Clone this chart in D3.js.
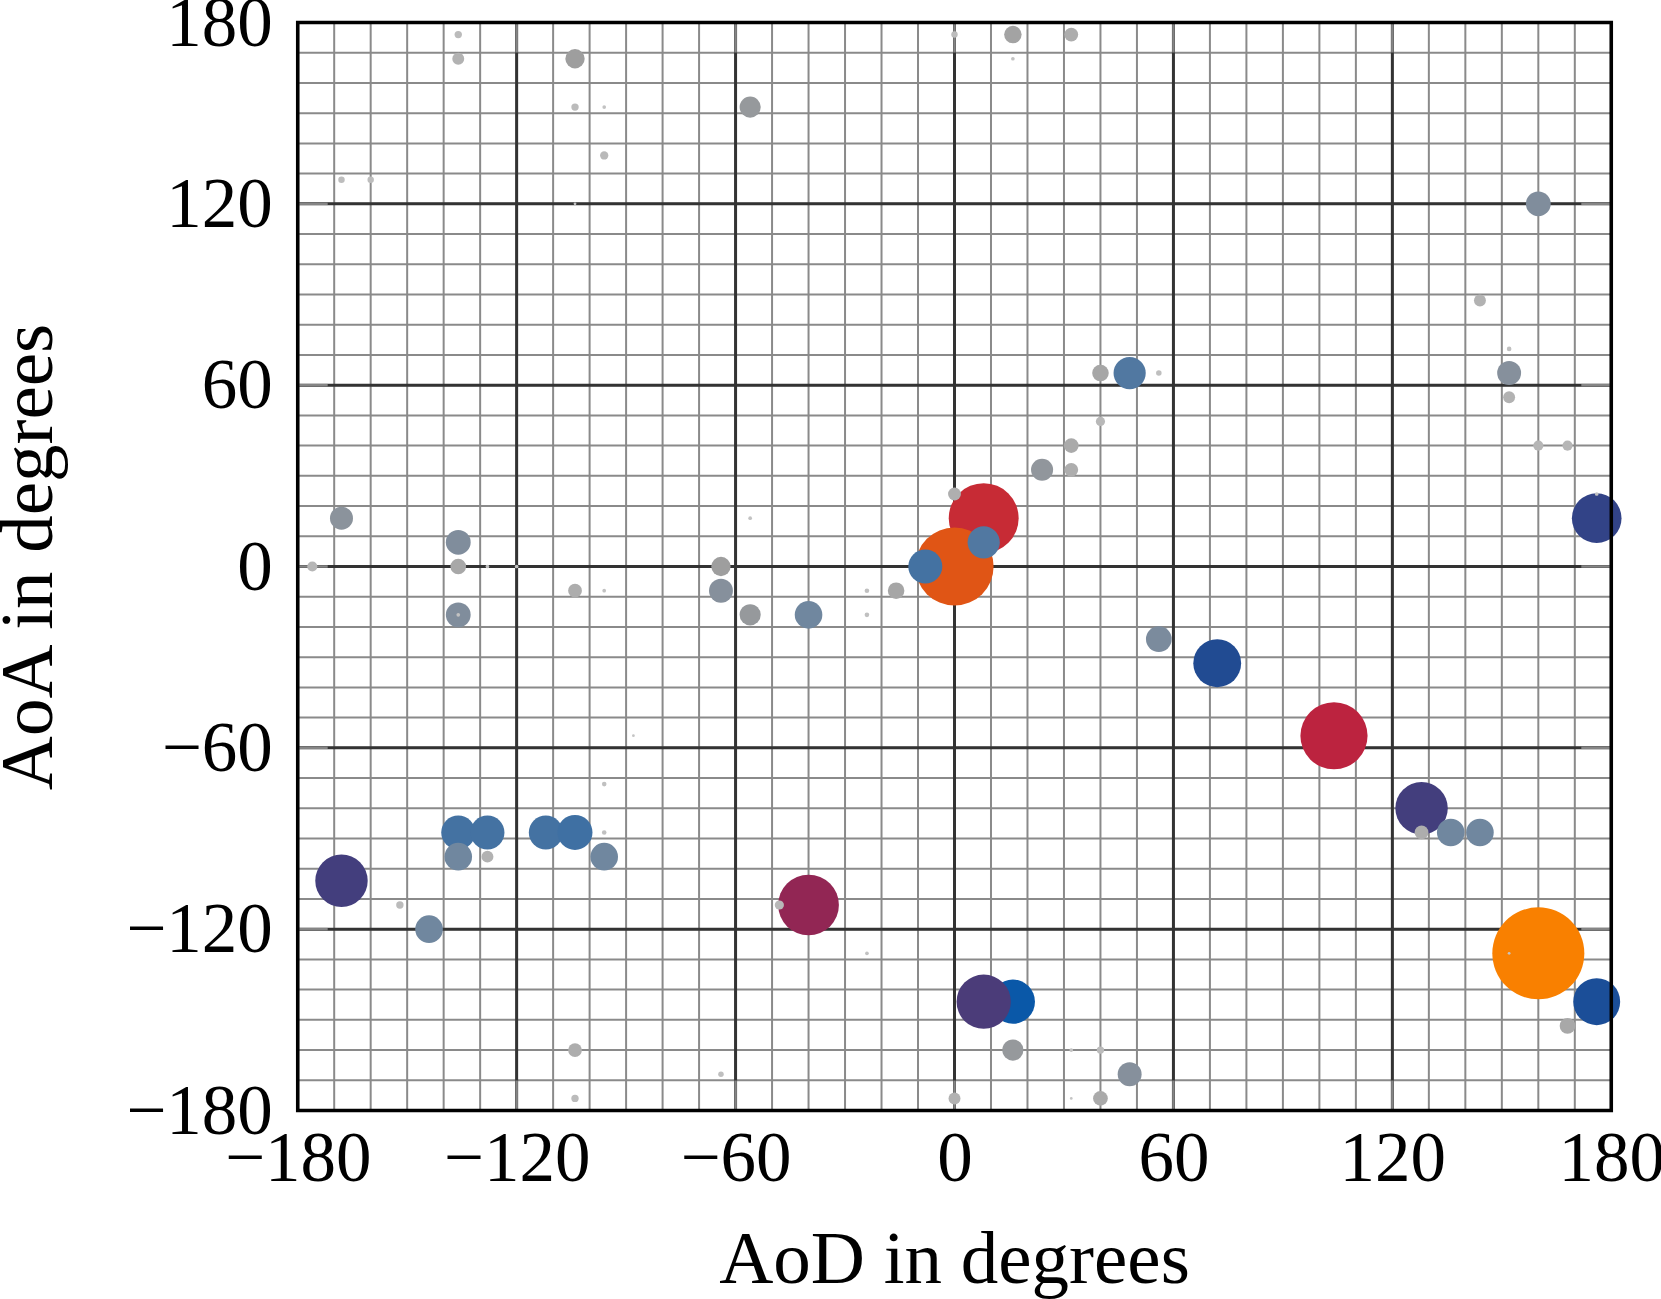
<!DOCTYPE html>
<html>
<head>
<meta charset="utf-8">
<script src="https://cdn.jsdelivr.net/npm/d3@7.9.0/dist/d3.min.js"></script>
<style>
  html, body { margin: 0; padding: 0; background: #fff; }
  svg { display: block; }
  text { font-family: "Liberation Serif", "DejaVu Serif", serif; fill: #000; }
</style>
</head>
<body>
<svg id="chart" width="1661" height="1299"></svg>
<script>
// angle of departure / angle of arrival of each path (degrees)
const aod = [-136, -136, -104, -104, -96, -56, -96, -168, -160, -104,
  0, 16, 32, 16, 160, 144, 152, 152, 152, 160, 168,
  40, 48, 56, 40, 32, 32, 24,
  -168, -136, -176, -136, -128, -120, -64, -56,
  -104, -96, -64, -136, -136, -56, -40, -24, -24, -16,
  8, 0, 8, -8, 0, 176, 176,
  -88, -96, -136, -128, -112, -104, -96, -136, -128, -96,
  -168, -152, -144, -40, -48, -24, -104, -64, -104, 0,
  56, 72, 104, 128, 128, 136, 144, 160, 152, 176, 168,
  16, 8, 16, 32, 40, 48, 32, 40];
const aoa = [176, 168, 168, 152, 152, 152, 136, 128, 128, 120,
  176, 176, 176, 168, 120, 88, 72, 64, 56, 40, 40,
  64, 64, 64, 48, 40, 32, 32,
  16, 8, 0, 0, 0, 0, 0, 16,
  -8, -8, -8, -16, -16, -16, -16, -8, -16, -8,
  16, 0, 8, 0, 24, 16, 24,
  -56, -72, -88, -88, -88, -88, -88, -96, -96, -96,
  -104, -112, -120, -112, -112, -128, -160, -168, -176, -176,
  -24, -32, -56, -80, -88, -88, -88, -128, -128, -144, -152,
  -144, -144, -160, -160, -160, -168, -176, -176];
// relative path power (0-100), drives marker size and colour
const relPower = [8, 13, 21, 8, 4, 23, 9, 7, 7, 3,
  7, 19, 15, 4, 27, 13, 5, 26, 13, 11, 11,
  18, 35, 6, 10, 16, 15, 24,
  25, 27, 11, 17, 4, 4, 21, 4,
  15, 4, 26, 27, 4, 23, 30, 5, 5, 18,
  76, 85, 35, 37, 14, 54, 4,
  3, 5, 37, 37, 37, 38, 5, 30, 13, 30,
  57, 8, 30, 66, 10, 4, 15, 6, 8, 13,
  28, 52, 73, 57, 15, 30, 30, 100, 3, 51, 17,
  48, 59, 23, 4, 8, 26, 3, 16];

const xTicks = [-180, -120, -60, 0, 60, 120, 180];
const yTicks = [-180, -120, -60, 0, 60, 120, 180];

const svg = d3.select('#chart');
const plotL = 297.7, plotR = 1611.3, plotT = 22.5, plotB = 1110.5;

const x = d3.scaleLinear().domain([-180, 180]).range([plotL, plotR]);
const y = d3.scaleLinear().domain([-180, 180]).range([plotB, plotT]);
const r = d3.scaleLinear().domain([0, 100]).range([0, 46]);
const color = d3.scaleLinear()
  .domain([0, 12, 22, 27, 31, 37, 48, 52, 55, 59, 66, 74, 85, 100])
  .range(['#c9c9c9', '#b4b4b4', '#9c9c9c', '#808d9c', '#6a85a0', '#4472a2',
    '#0a58a8', '#214b92', '#3b3f81', '#4b3c79', '#922654', '#c2223c',
    '#e05515', '#f98000']);

// grid
const minor = d3.range(-180, 181, 10);
const grid = svg.append('g');
grid.selectAll('.vmin').data(minor).join('line')
  .attr('x1', d => x(d)).attr('x2', d => x(d))
  .attr('y1', plotT).attr('y2', plotB)
  .attr('stroke', '#8a8a8a').attr('stroke-width', 2);
grid.selectAll('.hmin').data(minor).join('line')
  .attr('y1', d => y(d)).attr('y2', d => y(d))
  .attr('x1', plotL).attr('x2', plotR)
  .attr('stroke', '#8a8a8a').attr('stroke-width', 2);
grid.selectAll('.vmaj').data(xTicks).join('line')
  .attr('x1', d => x(d)).attr('x2', d => x(d))
  .attr('y1', plotT).attr('y2', plotB)
  .attr('stroke', '#333').attr('stroke-width', 3);
grid.selectAll('.hmaj').data(yTicks).join('line')
  .attr('y1', d => y(d)).attr('y2', d => y(d))
  .attr('x1', plotL).attr('x2', plotR)
  .attr('stroke', '#333').attr('stroke-width', 3);

// inner tick marks
const tl = 30;
const ticks = svg.append('g').attr('stroke', '#858585').attr('stroke-width', 2.5);
xTicks.forEach(t => {
  ticks.append('line').attr('x1', x(t)).attr('x2', x(t)).attr('y1', plotB).attr('y2', plotB - tl);
  ticks.append('line').attr('x1', x(t)).attr('x2', x(t)).attr('y1', plotT).attr('y2', plotT + tl);
});
yTicks.forEach(t => {
  ticks.append('line').attr('y1', y(t)).attr('y2', y(t)).attr('x1', plotL).attr('x2', plotL + tl);
  ticks.append('line').attr('y1', y(t)).attr('y2', y(t)).attr('x1', plotR).attr('x2', plotR - tl);
});

// paths
const pts = aod.map((d, i) => ({ aod: d, aoa: aoa[i], p: relPower[i] }));
svg.append('g').selectAll('circle').data(pts).join('circle')
  .attr('cx', d => x(d.aod))
  .attr('cy', d => y(d.aoa))
  .attr('r', d => r(d.p))
  .attr('fill', d => color(d.p));

// frame
svg.append('rect')
  .attr('x', plotL).attr('y', plotT)
  .attr('width', plotR - plotL).attr('height', plotB - plotT)
  .attr('fill', 'none').attr('stroke', '#000').attr('stroke-width', 3.5);

// axes labels
const xAxis = svg.append('g').attr('transform', `translate(0,${plotB})`)
  .call(d3.axisBottom(x).tickValues(xTicks).tickSize(0).tickPadding(20));
const yAxis = svg.append('g').attr('transform', `translate(${plotL},0)`)
  .call(d3.axisLeft(y).tickValues(yTicks).tickSize(0).tickPadding(25));
[xAxis, yAxis].forEach(a => {
  a.select('.domain').remove();
  a.selectAll('text').attr('font-size', 71).attr('fill', '#000')
    .style('font-family', '"Liberation Serif", serif');
});

svg.append('text')
  .attr('x', (plotL + plotR) / 2).attr('y', 1283)
  .attr('text-anchor', 'middle').attr('font-size', 75)
  .text('AoD in degrees');
svg.append('text')
  .attr('transform', 'translate(52,557) rotate(-90)')
  .attr('text-anchor', 'middle').attr('font-size', 75)
  .text('AoA in degrees');
</script>
</body>
</html>
